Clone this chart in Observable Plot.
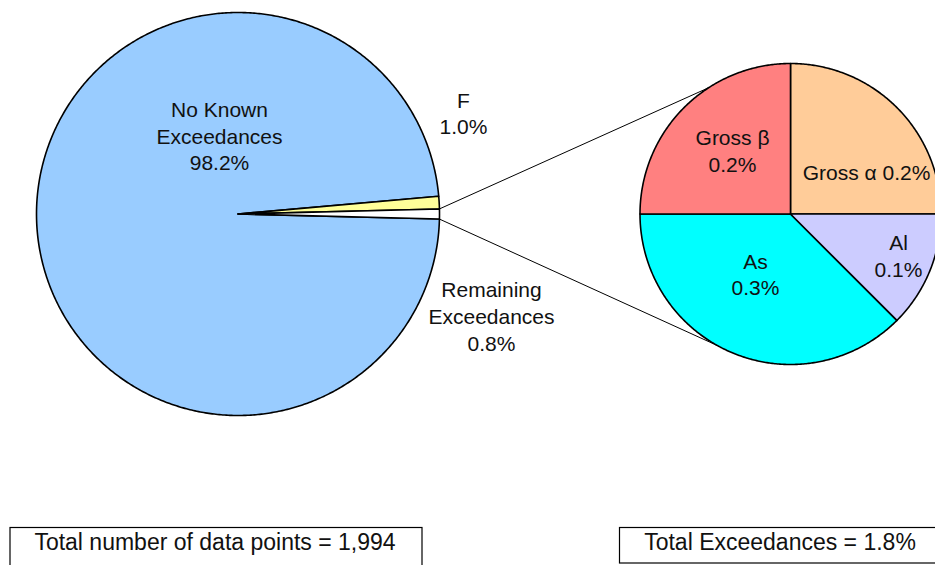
<!DOCTYPE html>
<html>
<head>
<meta charset="utf-8">
<script src="https://cdn.jsdelivr.net/npm/d3@7"></script>
<script src="https://cdn.jsdelivr.net/npm/@observablehq/plot@0.6"></script>
<style>
  body { margin: 0; background: #fff; }
  #chart svg { display: block; }
</style>
</head>
<body>
<div id="chart"></div>
<script>
// Primary pie: share of all data points
const mainCategories = ["F", "Remaining Exceedances", "No Known Exceedances"];
const mainValues = [1.0, 0.8, 98.2];
const mainLabels = ["F\n1.0%", "Remaining\nExceedances\n0.8%", "No Known\nExceedances\n98.2%"];
const mainColors = ["#FFFF99", "#FFFFFF", "#99CCFF"];

// Secondary pie: breakdown of the remaining exceedances
const subCategories = ["Gross α", "Al", "As", "Gross β"];
const subValues = [0.2, 0.1, 0.3, 0.2];
const subLabels = ["Gross α 0.2%", "Al\n0.1%", "As\n0.3%", "Gross β\n0.2%"];
const subColors = ["#FFCC99", "#CCCCFF", "#00FFFF", "#FF8080"];

// Summary figures
const totalPoints = 1994;
const totalExceedances = 1.8;

// ---- layout ----
const W = 935, H = 565;
const FONT = "'Liberation Sans', Arial, Helvetica, sans-serif";
const deg = Math.PI / 180;
const mainPie = {cx: 237.5, cy: 213.5, r: 201.5};
const subPie = {cx: 790, cy: 213.5, r: 150.5};
// centre of each label block
const mainLabelPos = {"F": [463, 112], "Remaining Exceedances": [491, 315], "No Known Exceedances": [219, 134.5]};
const subLabelPos = {"Gross α": [866, 170.5], "Al": [898, 254.5], "As": [755, 273], "Gross β": [732, 149.5]};
// where the connector lines meet the secondary pie (angle clockwise from 12 o'clock)
const connectorAngles = [-33 * deg, 209 * deg];
const boxes = [
  {x1: 10, x2: 422, y1: 527.5, y2: 568, tx: 214.5, ty: 542.5,
   text: `Total number of data points = ${d3.format(",")(totalPoints)}`},
  {x1: 619.5, x2: 945, y1: 527.5, y2: 563, tx: 779.5, ty: 542.5,
   text: `Total Exceedances = ${totalExceedances.toFixed(1)}%`}
];

// The "remaining" slice is centred on 3 o'clock
const mainTotal = d3.sum(mainValues);
const mainStart = Math.PI / 2 - (mainValues[0] + mainValues[1] / 2) / mainTotal * 2 * Math.PI;
const mainArcs = d3.pie().sort(null).startAngle(mainStart).endAngle(mainStart + 2 * Math.PI)(mainValues);
const subArcs = d3.pie().sort(null).startAngle(0).endAngle(2 * Math.PI)(subValues);

const polar = (pie, a, r = pie.r) => [pie.cx + r * Math.sin(a), pie.cy - r * Math.cos(a)];

function wedges(arcs, names, colors, pie, prefix) {
  const pts = [];
  arcs.forEach((a, i) => {
    const key = prefix + names[i];
    const n = Math.max(2, Math.ceil((a.endAngle - a.startAngle) / (0.5 * deg)));
    pts.push({key, fill: colors[i], x: pie.cx, y: pie.cy});
    for (let k = 0; k <= n; k++) {
      const [x, y] = polar(pie, a.startAngle + (a.endAngle - a.startAngle) * k / n);
      pts.push({key, fill: colors[i], x, y});
    }
    pts.push({key, fill: colors[i], x: pie.cx, y: pie.cy});
  });
  // draw the largest slice first so thin slices sit on top
  const order = d3.sort(arcs.map((a, i) => prefix + names[i]), (k) => -arcs[names.indexOf(k.slice(prefix.length))].value);
  return d3.sort(pts, (p) => order.indexOf(p.key));
}

const mainPts = wedges(mainArcs, mainCategories, mainColors, mainPie, "m:");
const subPts = wedges(subArcs, subCategories, subColors, subPie, "s:");

// Connectors from the edges of the "remaining" slice to the secondary pie
const rem = mainArcs[1];
const links = [
  {from: polar(mainPie, rem.startAngle), to: polar(subPie, connectorAngles[0])},
  {from: polar(mainPie, rem.endAngle), to: polar(subPie, connectorAngles[1])}
];

const labels = [
  ...mainCategories.map((c, i) => ({text: mainLabels[i], x: mainLabelPos[c][0], y: mainLabelPos[c][1]})),
  ...subCategories.map((c, i) => ({text: subLabels[i], x: subLabelPos[c][0], y: subLabelPos[c][1]}))
];

const chart = Plot.plot({
  width: W,
  height: H,
  margin: 0,
  x: {domain: [0, W], range: [0, W], axis: null},
  y: {domain: [0, H], range: [0, H], axis: null},
  color: {type: "identity"},
  style: {fontFamily: FONT, background: "white", overflow: "hidden"},
  marks: [
    Plot.link(links, {
      x1: (d) => d.from[0], y1: (d) => d.from[1],
      x2: (d) => d.to[0], y2: (d) => d.to[1],
      stroke: "black", strokeWidth: 1
    }),
    Plot.line(mainPts, {x: "x", y: "y", z: "key", fill: "fill", stroke: "black", strokeWidth: 1.6, strokeLinejoin: "round"}),
    Plot.line(subPts, {x: "x", y: "y", z: "key", fill: "fill", stroke: "black", strokeWidth: 1.6, strokeLinejoin: "round"}),
    Plot.text(labels, {
      x: "x", y: "y", text: "text",
      fontSize: 21, lineHeight: 1.27, lineAnchor: "middle", textAnchor: "middle",
      fill: "#111"
    }),
    Plot.rect(boxes, {x1: "x1", x2: "x2", y1: "y1", y2: "y2", fill: "white", stroke: "black", strokeWidth: 1.2}),
    Plot.text(boxes, {
      x: "tx", y: "ty", text: "text",
      fontSize: 23, lineAnchor: "middle", textAnchor: "middle", fill: "#111"
    })
  ]
});

document.getElementById("chart").append(chart);
</script>
</body>
</html>
